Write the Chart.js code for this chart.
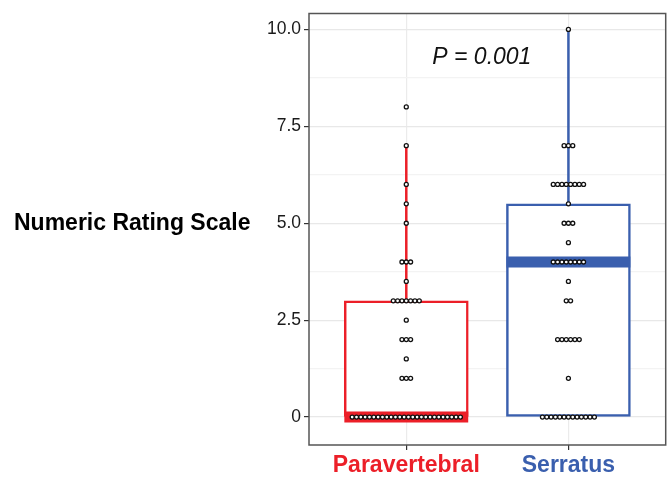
<!DOCTYPE html>
<html>
<head>
<meta charset="utf-8">
<script src="https://cdn.jsdelivr.net/npm/chart.js@4/dist/chart.umd.min.js"></script>
<style>
  body { margin: 0; background: #fff; }
  canvas { display: block; }
</style>
</head>
<body>
<canvas id="boxChart" width="671" height="477"></canvas>
<script>
// Data
const groups = ['Paravertebral', 'Serratus'];
const groupColors = ['#ec1f28', '#3a5fae'];

// box stats: lower quartile, median, upper quartile, whisker top
const q1 = [0, 0];
const medians = [0, 4];
const q3 = [3, 5.5];
const whiskerTop = [7, 10];

// dot values and how many patients sit on each value
const paraValues = [0, 1, 1.5, 2, 2.5, 3, 3.5, 4, 5, 5.5, 6, 7, 8];
const paraCounts = [26, 3, 1, 3, 1, 7, 1, 3, 1, 1, 1, 1, 1];
const serrValues = [0, 1, 2, 3, 3.5, 4, 4.5, 5, 5.5, 6, 7, 10];
const serrCounts = [13, 1, 6, 2, 1, 8, 1, 3, 1, 8, 3, 1];

const yTicks = [0, 2.5, 5, 7.5, 10];
const pLabel = 'P = 0.001';
const yTitle = 'Numeric Rating Scale';

const BOX_HALF = 0.382;   // half box width, x units
const DOT_STEP = 0.0267;  // horizontal spacing of stacked dots, x units

function dotPoints(center, values, counts) {
    const pts = [];
    values.forEach((v, i) => {
        const n = counts[i];
        for (let k = 0; k < n; k++) {
            pts.push({ x: center + (k - (n - 1) / 2) * DOT_STEP, y: v });
        }
    });
    return pts;
}

const datasets = [];

// whiskers
groups.forEach((g, i) => {
    datasets.push({
        type: 'line',
        data: [{ x: i + 1, y: q3[i] }, { x: i + 1, y: whiskerTop[i] }],
        borderColor: groupColors[i],
        borderWidth: 2.5,
        pointRadius: 0,
        order: 5
    });
});

// boxes
datasets.push({
    type: 'bar',
    data: groups.map((g, i) => ({ x: i + 1, y: [q1[i], q3[i]] })),
    backgroundColor: '#ffffff',
    borderColor: groupColors,
    borderWidth: 2.5,
    borderSkipped: false,
    barThickness: 124,
    grouped: false,
    order: 4
});

// medians
groups.forEach((g, i) => {
    datasets.push({
        type: 'line',
        data: [{ x: i + 1 - BOX_HALF, y: medians[i] }, { x: i + 1 + BOX_HALF, y: medians[i] }],
        borderColor: groupColors[i],
        borderWidth: 11,
        borderCapStyle: 'butt',
        pointRadius: 0,
        order: 3
    });
});

// dots
[[paraValues, paraCounts], [serrValues, serrCounts]].forEach(([vals, cnts], i) => {
    datasets.push({
        type: 'scatter',
        data: dotPoints(i + 1, vals, cnts),
        backgroundColor: '#ffffff',
        borderColor: '#111111',
        borderWidth: 1.3,
        pointRadius: 2,
        order: 1
    });
});

const frameAndText = {
    id: 'frameAndText',
    afterDatasetsDraw(chart) {
        const { ctx, chartArea, scales } = chart;
        ctx.save();
        ctx.strokeStyle = '#555555';
        ctx.lineWidth = 1.5;
        ctx.strokeRect(chartArea.left, chartArea.top, chartArea.right - chartArea.left, chartArea.bottom - chartArea.top);

        ctx.fillStyle = '#111111';
        ctx.font = 'italic 23px "Liberation Sans", Arial, sans-serif';
        ctx.textAlign = 'center';
        ctx.textBaseline = 'middle';
        ctx.fillText(pLabel, scales.x.getPixelForValue(1.466), scales.y.getPixelForValue(9.28));

        ctx.fillStyle = '#000000';
        ctx.font = 'bold 23px "Liberation Sans", Arial, sans-serif';
        ctx.textAlign = 'left';
        ctx.fillText(yTitle, 14, scales.y.getPixelForValue(5));
        ctx.restore();
    }
};

new Chart(document.getElementById('boxChart'), {
    type: 'scatter',
    data: { datasets },
    options: {
        responsive: false,
        animation: false,
        layout: { padding: { top: 11, right: 5, left: 0, bottom: 0 } },
        plugins: {
            legend: { display: false },
            tooltip: { enabled: false }
        },
        scales: {
            x: {
                type: 'linear',
                min: 0.4,
                max: 2.6,
                offset: false,
                afterBuildTicks: (scale) => {
                    scale.ticks = groups.map((g, i) => ({ value: i + 1 }));
                },
                afterFit: (scale) => { scale.height = 32; },
                ticks: {
                    callback: (v) => groups[Math.round(v) - 1] || '',
                    color: groupColors,
                    font: { family: '"Liberation Sans", Arial, sans-serif', size: 23, weight: 'bold' },
                    padding: 2,
                    maxRotation: 0
                },
                grid: {
                    color: '#ebebeb',
                    lineWidth: 1.2,
                    tickColor: '#333333',
                    tickLength: 5,
                    offset: false
                },
                border: { display: false }
            },
            y: {
                min: -0.72,
                max: 10.41,
                afterBuildTicks: (scale) => {
                    const t = [];
                    for (let v = 0; v <= 10; v += 1.25) t.push({ value: v });
                    scale.ticks = t;
                },
                afterFit: (scale) => { scale.width = 309; },
                ticks: {
                    callback: (v) => {
                        if (!yTicks.includes(v)) return '';
                        return v === 0 ? '0' : v.toFixed(1);
                    },
                    color: '#1a1a1a',
                    font: { family: '"Liberation Sans", Arial, sans-serif', size: 17.5 },
                    padding: 3
                },
                grid: {
                    color: (c) => yTicks.includes(c.tick && c.tick.value) ? '#e8e8e8' : '#f3f3f3',
                    lineWidth: 1.2,
                    tickColor: (c) => yTicks.includes(c.tick && c.tick.value) ? '#333333' : 'rgba(0,0,0,0)',
                    tickLength: 5
                },
                border: { display: false }
            }
        }
    },
    plugins: [frameAndText]
});
</script>
</body>
</html>
